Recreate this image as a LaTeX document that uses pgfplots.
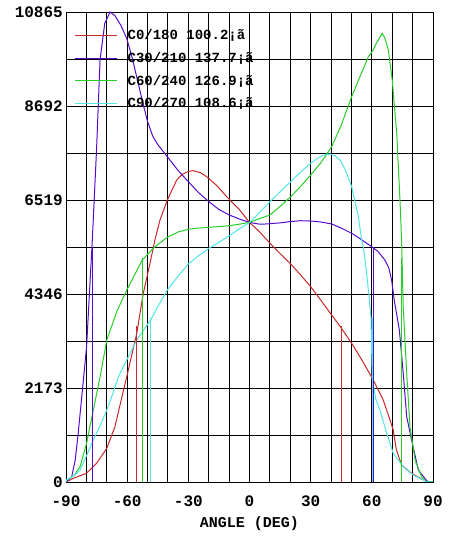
\documentclass[border=0pt]{standalone}
\usepackage{pgfplots}
\pgfplotsset{compat=1.18}
\usepackage{fontspec}
\setmonofont{Liberation Mono}
\definecolor{cred}{RGB}{200,40,40}
\definecolor{cpur}{RGB}{85,10,205}
\definecolor{cgrn}{RGB}{40,205,40}
\definecolor{ccyn}{RGB}{80,230,230}
\begin{document}
\begin{tikzpicture}
\useasboundingbox (-66pt,-55pt) rectangle (402pt,482pt);
\begin{axis}[at={(0,0)}, anchor=south west, scale only axis, width=367pt, height=470pt,
 xmin=-90,xmax=90,ymin=0,ymax=10865,
 xtick={-90,-60,-30,0,30,60,90}, minor xtick={-80,-70,-50,-40,-20,-10,10,20,40,50,70,80},
 ytick={0,2173,4346,6519,8692,10865}, minor ytick={1086.5,3259.5,5432.5,7605.5,9778.5},
 xticklabels={-90,-60,-30,0,30,60,90},
 yticklabels={0,2173,4346,6519,8692,10865},
 grid=both, major grid style={black,line width=0.9pt}, minor grid style={black,line width=0.9pt},
 axis line style={black,line width=0.9pt},
 major tick length=0pt, minor tick length=0pt,
 tick label style={font=\ttfamily\bfseries\fontsize{16}{16}\selectfont},
 yticklabel style={xshift=-1pt, inner sep=2pt},
 xticklabel style={yshift=-10pt},
 xlabel={ANGLE (DEG)}, xlabel style={font=\ttfamily\bfseries\fontsize{15}{15}\selectfont, yshift=-3pt},
 legend style={draw=none, fill=none, at={(0.023,0.963)}, anchor=north west, font=\ttfamily\bfseries\fontsize{14}{14}\selectfont, row sep=11pt, inner sep=0pt,
   nodes={inner sep=0pt}, /tikz/every even column/.append style={column sep=0pt}},
 legend cell align=left,
 legend image code/.code={\draw[#1,line width=1pt] (0pt,0pt) -- (42pt,0pt); \path (52pt,0pt);},
 every axis plot/.append style={line width=1pt},
]
\addplot[cred] coordinates {(-90,0)(-86.4,85)(-80,200)(-75,432)(-70,779)(-66,1278)(-63.5,1780)(-60.2,2434)(-55.3,3437)(-52.1,4362)(-48.8,5055)(-46.4,5594)(-43.9,6057)(-40.3,6519)(-35.7,6981)(-33,7110)(-30,7180)(-27.6,7197)(-24,7150)(-21,7058)(-16,6850)(-11.2,6596)(-5,6300)(0,6000)(5,5780)(10,5520)(15,5280)(19.9,5055)(25,4790)(30,4515)(35,4200)(40.3,3861)(45,3560)(50.1,3206)(55,2830)(60.7,2358)(65.6,1896)(68.9,1433)(70.5,1202)(72,750)(74.6,393)(79.5,200)(85.3,46)(88,0)(90,0)};
\addlegendentry{C0/180 100.2¡ã}
\addplot[cpur] coordinates {(-90,0)(-87.2,123)(-85.5,500)(-84,1133)(-82,2100)(-79.9,3128)(-77.1,5595)(-75,7700)(-73.3,9756)(-71,10600)(-68.4,10865)(-66,10780)(-63,10550)(-60.2,10250)(-57.5,9800)(-55,9300)(-52.5,8800)(-50.1,8350)(-47.5,8000)(-45,7800)(-40.3,7520)(-35,7200)(-30,6943)(-25,6690)(-19.9,6480)(-15,6300)(-9.9,6172)(-5,6080)(0,6000)(5,5960)(8.4,5965)(15,5990)(20,6020)(25,6040)(30,6034)(35,6010)(40.3,5965)(45,5870)(50.1,5750)(55,5600)(59.9,5440)(63,5330)(66.4,5132)(68.3,4950)(69.7,4670)(71,4200)(73.5,3514)(75.4,2513)(77.1,1510)(79.5,971)(82.8,277)(86.9,30)(88,0)(90,0)};
\addlegendentry{C30/210 137.7¡ã}
\addplot[cgrn] coordinates {(-90,0)(-89.7,46)(-86,150)(-83.1,354)(-79.9,895)(-76.6,1664)(-73,2500)(-70,3283)(-65,3950)(-60.2,4438)(-56,4820)(-52.6,5132)(-47.2,5402)(-43.9,5530)(-40.3,5657)(-35,5780)(-30,5842)(-25,5870)(-19.9,5888)(-15,5905)(-9.9,5925)(-5,5960)(0,6000)(5,6090)(10,6172)(15,6370)(20.2,6596)(25,6830)(30,7097)(35,7380)(40.3,7751)(45,8250)(50.1,8907)(54,9350)(58.3,9832)(60.7,9987)(62,10120)(65.1,10372)(66.5,10250)(68.1,9987)(70,9293)(72.2,8061)(73.8,6519)(74.6,5594)(75.4,4052)(77.1,2513)(78.7,1278)(81.2,509)(84.4,123)(86,40)(87,0)(90,0)};
\addlegendentry{C60/240 126.9¡ã}
\addplot[ccyn] coordinates {(-90,0)(-89.7,46)(-86,150)(-83.1,277)(-80,600)(-76.6,971)(-73,1330)(-70,1664)(-67,2050)(-64.3,2434)(-60.2,2820)(-55.3,3283)(-48.5,3745)(-45,4050)(-40.3,4438)(-35,4760)(-30,5040)(-25,5230)(-20,5400)(-15,5540)(-10,5690)(-4.7,5860)(0,6000)(5,6230)(10,6480)(15,6710)(20.2,6943)(25,7160)(30,7368)(33,7470)(36.2,7559)(39.5,7582)(42,7540)(44.4,7444)(47,7220)(50.1,6827)(53.4,6133)(55,5594)(55.8,5440)(57,5000)(58.3,4438)(59.6,3790)(60.2,2400)(62,1900)(64,1664)(67.3,1125)(70.5,663)(75.4,354)(80.3,162)(85.3,46)(87,0)(90,0)};
\addlegendentry{C90/270 108.6¡ã}
\addplot[cred,forget plot] coordinates {(-55.3,0)(-55.3,3600)};
\addplot[cred,forget plot] coordinates {(45,0)(45,3600)};
\addplot[cpur,forget plot] coordinates {(-77.1,0)(-77.1,5432)};
\addplot[cpur,forget plot] coordinates {(60.7,0)(60.7,5432)};
\addplot[cgrn,forget plot] coordinates {(-52.6,0)(-52.6,5186)};
\addplot[cgrn,forget plot] coordinates {(74.5,0)(74.5,5186)};
\addplot[ccyn,forget plot] coordinates {(-48.5,0)(-48.5,3791)};
\addplot[ccyn,forget plot] coordinates {(60.2,0)(60.2,3791)};
\end{axis}
\end{tikzpicture}
\end{document}
